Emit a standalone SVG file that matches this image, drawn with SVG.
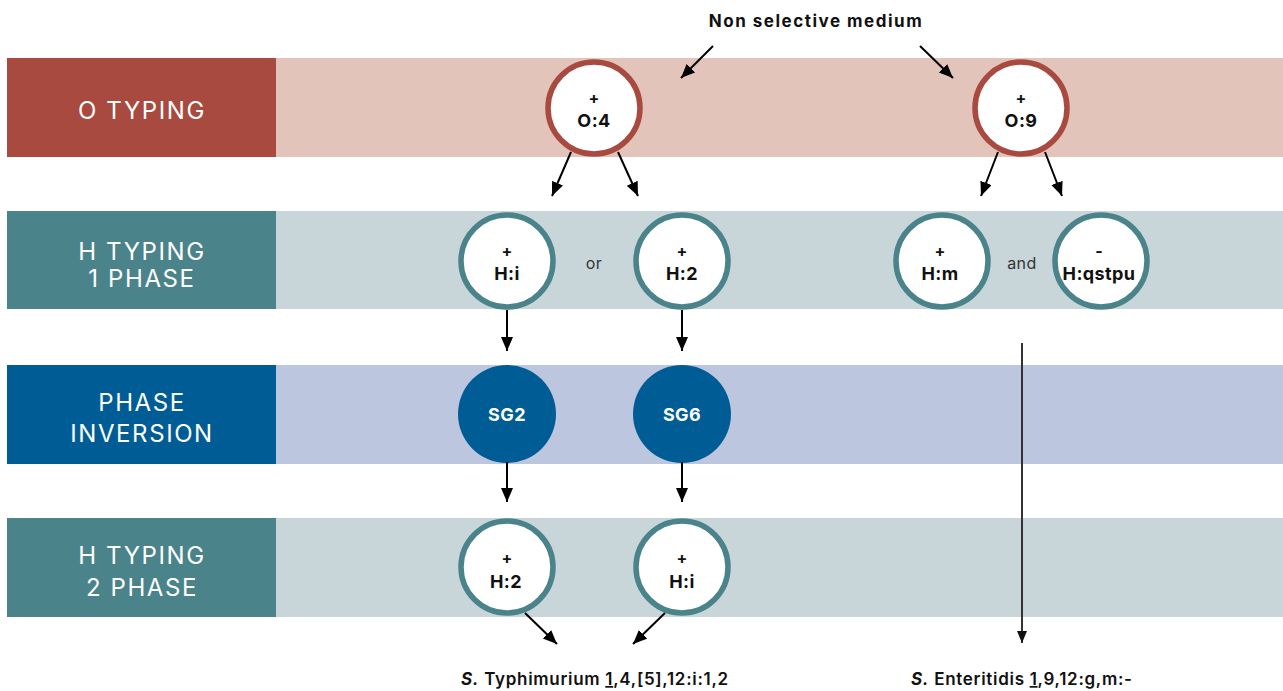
<svg xmlns="http://www.w3.org/2000/svg" width="1283" height="691" viewBox="0 0 1283 691">
<defs>
<marker id="ah" markerUnits="userSpaceOnUse" markerWidth="15" markerHeight="13" refX="14" refY="6" orient="auto">
<path d="M0,0 L14,6 L0,12 z" fill="#000"/>
</marker>
<marker id="ah2" markerUnits="userSpaceOnUse" markerWidth="13" markerHeight="12" refX="12" refY="5" orient="auto">
<path d="M0,0 L12,5 L0,10 z" fill="#111"/>
</marker>
</defs>
<style>
.lab{font-family:Inter,"Liberation Sans",sans-serif;font-size:24px;fill:#fff;text-anchor:middle;letter-spacing:1.6px}
.pl{font-family:Inter,"Liberation Sans",sans-serif;font-size:16px;font-weight:700;fill:#111;text-anchor:middle}
.nl{font-family:Inter,"Liberation Sans",sans-serif;font-size:18px;font-weight:700;fill:#111;text-anchor:middle;letter-spacing:0.4px}
.sg{font-family:Inter,"Liberation Sans",sans-serif;font-size:18px;font-weight:700;fill:#fff;text-anchor:middle;letter-spacing:0.4px}
.cj{font-family:Inter,"Liberation Sans",sans-serif;font-size:16px;fill:#333;text-anchor:middle;letter-spacing:0.5px}
.hd{font-family:Inter,"Liberation Sans",sans-serif;font-size:17px;font-weight:700;fill:#111;text-anchor:middle;letter-spacing:1.5px}
.res{font-family:Inter,"Liberation Sans",sans-serif;font-size:17px;font-weight:600;fill:#111;letter-spacing:0.7px}
.oc{fill:#fff;stroke:#A84A3F;stroke-width:5.5}
.hc{fill:#fff;stroke:#4A838A;stroke-width:5.5}
.pc{fill:#005C94}
.ar{stroke:#000;stroke-width:2;fill:none;marker-end:url(#ah)}
</style>
<g id="bands">
<rect x="276" y="58" width="1007" height="99" fill="#E2C4BA"/>
<rect x="7" y="58" width="269" height="99" fill="#A84A3F"/>
<rect x="276" y="211" width="1007" height="98" fill="#C8D6DA"/>
<rect x="7" y="211" width="269" height="98" fill="#4A838A"/>
<rect x="276" y="365" width="1007" height="99" fill="#BCC6DE"/>
<rect x="7" y="365" width="269" height="99" fill="#005C94"/>
<rect x="276" y="518" width="1007" height="99" fill="#C8D6DA"/>
<rect x="7" y="518" width="269" height="99" fill="#4A838A"/>
</g>
<g id="row-labels">
<text class="lab" x="142" y="119">O TYPING</text>
<text class="lab" x="142" y="260">H TYPING</text>
<text class="lab" x="142" y="287">1 PHASE</text>
<text class="lab" x="142" y="411">PHASE</text>
<text class="lab" x="142" y="442">INVERSION</text>
<text class="lab" x="142" y="564">H TYPING</text>
<text class="lab" x="142" y="596">2 PHASE</text>
</g>
<g id="header"><text class="hd" x="816" y="27">Non selective medium</text></g>
<g id="n-o4"><circle class="oc" cx="594" cy="108" r="46"/><text class="pl" x="594" y="104">+</text><text class="nl" x="594" y="127">O:4</text></g>
<g id="n-o9"><circle class="oc" cx="1021" cy="108" r="46"/><text class="pl" x="1021" y="104">+</text><text class="nl" x="1021" y="127">O:9</text></g>
<g id="n-hi1"><circle class="hc" cx="507" cy="261" r="46"/><text class="pl" x="507" y="257">+</text><text class="nl" x="507" y="280">H:i</text></g>
<g id="t-or"><text class="cj" x="594" y="269">or</text></g>
<g id="n-h21"><circle class="hc" cx="682" cy="261" r="46"/><text class="pl" x="682" y="257">+</text><text class="nl" x="682" y="280">H:2</text></g>
<g id="n-hm"><circle class="hc" cx="942" cy="261" r="46"/><text class="pl" x="940" y="257">+</text><text class="nl" x="940" y="280">H:m</text></g>
<g id="t-and"><text class="cj" x="1022" y="269">and</text></g>
<g id="n-hq"><circle class="hc" cx="1101" cy="261" r="46"/><text class="pl" x="1099" y="257">-</text><text class="nl" x="1099" y="280">H:qstpu</text></g>
<g id="n-sg2"><circle class="pc" cx="507" cy="414" r="49"/><text class="sg" x="507" y="421">SG2</text></g>
<g id="n-sg6"><circle class="pc" cx="682" cy="414" r="49"/><text class="sg" x="682" y="421">SG6</text></g>
<g id="n-h22"><circle class="hc" cx="507" cy="567" r="46"/><text class="pl" x="507" y="564">+</text><text class="nl" x="506" y="588">H:2</text></g>
<g id="n-hi2"><circle class="hc" cx="682" cy="567" r="46"/><text class="pl" x="682" y="564">+</text><text class="nl" x="682" y="588">H:i</text></g>
<g id="results">
<text class="res" x="461" y="685"><tspan font-style="italic" font-weight="700">S.</tspan> Typhimurium <tspan text-decoration="underline">1</tspan>,4,[5],12:i:1,2</text>
<text class="res" x="911" y="685"><tspan font-style="italic" font-weight="700">S.</tspan> Enteritidis <tspan text-decoration="underline">1</tspan>,9,12:g,m:-</text>
</g>
<g id="connectors">
<line class="ar" x1="713" y1="46" x2="681" y2="78"/>
<line class="ar" x1="920" y1="46" x2="953" y2="78"/>
<line class="ar" x1="571" y1="152" x2="552" y2="196"/>
<line class="ar" x1="618" y1="152" x2="638" y2="196"/>
<line class="ar" x1="998" y1="152" x2="981" y2="196"/>
<line class="ar" x1="1045" y1="152" x2="1062" y2="196"/>
<line class="ar" x1="507" y1="310" x2="507" y2="351"/>
<line class="ar" x1="682" y1="310" x2="682" y2="351"/>
<line class="ar" x1="507" y1="462" x2="507" y2="502"/>
<line class="ar" x1="682" y1="462" x2="682" y2="502"/>
<line class="ar" x1="525" y1="613" x2="557" y2="644"/>
<line class="ar" x1="665" y1="613" x2="633" y2="644"/>
<line x1="1022" y1="343" x2="1022" y2="643" stroke="#333" stroke-width="2" marker-end="url(#ah2)"/>
</g>
</svg>
